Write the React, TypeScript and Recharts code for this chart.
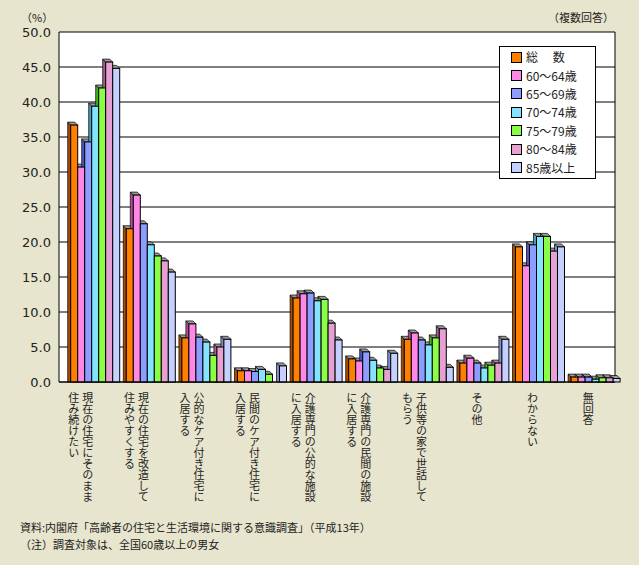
import React from 'react';
import { BarChart, Bar, XAxis, YAxis, CartesianGrid, Legend } from 'recharts';

// categories (x axis) and their vertical label columns
const categories = [
  '現在の住宅にそのまま住み続けたい',
  '現在の住宅を改造して住みやすくする',
  '公的なケア付き住宅に入居する',
  '民間のケア付き住宅に入居する',
  '介護専門の公的な施設に入居する',
  '介護専門の民間の施設に入居する',
  '子供等の家で世話してもらう',
  'その他',
  'わからない',
  '無回答',
];
const categoryLines = [
  ['現在の住宅にそのまま', '住み続けたい'],
  ['現在の住宅を改造して', '住みやすくする'],
  ['公的なケア付き住宅に', '入居する'],
  ['民間のケア付き住宅に', '入居する'],
  ['介護専門の公的な施設', 'に入居する'],
  ['介護専門の民間の施設', 'に入居する'],
  ['子供等の家で世話して', 'もらう'],
  ['その他'],
  ['わからない'],
  ['無回答'],
];

// series values (%)
const total = [36.7, 21.9, 6.3, 1.6, 12.0, 3.3, 6.1, 2.7, 19.3, 0.7];
const age60 = [30.7, 26.7, 8.3, 1.6, 12.6, 3.0, 7.0, 3.4, 16.6, 0.7];
const age65 = [34.3, 22.6, 6.4, 1.5, 12.7, 4.3, 6.0, 2.7, 19.6, 0.7];
const age70 = [39.4, 19.6, 5.7, 1.8, 11.6, 3.1, 5.3, 2.0, 20.8, 0.4];
const age75 = [42.0, 18.0, 3.8, 1.1, 11.8, 2.0, 6.3, 2.4, 20.8, 0.6];
const age80 = [45.7, 17.3, 5.0, 0.0, 8.4, 1.8, 7.6, 2.7, 18.7, 0.6];
const age85 = [44.8, 15.7, 6.1, 2.3, 6.0, 4.1, 2.1, 6.1, 19.3, 0.5];

const seriesKeys = ['total', 'a60', 'a65', 'a70', 'a75', 'a80', 'a85'];
const seriesNames = ['総\u3000 数', '60～64歳', '65～69歳', '70～74歳', '75～79歳', '80～84歳', '85歳以上'];
const seriesValues = [total, age60, age65, age70, age75, age80, age85];
const seriesColors = ['#ff8000', '#ff88e6', '#8c9cff', '#84e4ff', '#88ff44', '#e6a0d2', '#c4d0ff'];
const seriesSides = ['#a84c00', '#b0509c', '#4858c0', '#40a0c0', '#48b020', '#a0608c', '#8090c8'];

const yTicks = [0, 5, 10, 15, 20, 25, 30, 35, 40, 45, 50];

const data = categories.map((name, i) => {
  const row: Record<string, any> = { name };
  seriesKeys.forEach((k, s) => {
    row[k] = seriesValues[s][i];
  });
  return row;
});

const DEPTH = 3;
const SHIFT = 7;
const JP = '"Noto Sans CJK JP", "Noto Sans", sans-serif';

// back faces (top + left side), drawn under all fronts
const BackFace = (props: any) => {
  const { x, y, width, height, side } = props;
  if (!height || height <= 0) return null;
  const X = x + SHIFT;
  const top = `${X},${y} ${X + width},${y} ${X + width - DEPTH},${y - DEPTH} ${X - DEPTH},${y - DEPTH}`;
  const left = `${X},${y} ${X - DEPTH},${y - DEPTH} ${X - DEPTH},${y + height} ${X},${y + height}`;
  return (
    <g>
      <polygon points={left} fill={side} stroke="#000" strokeWidth={0.7} />
      <polygon points={top} fill="#9a9a9a" stroke="#000" strokeWidth={0.7} />
    </g>
  );
};

const FrontFace = (props: any) => {
  const { x, y, width, height, fill } = props;
  if (!height || height <= 0) return null;
  return <rect x={x + SHIFT} y={y} width={width} height={height} fill={fill} stroke="#000" strokeWidth={1} />;
};

const CategoryTick = (props: any) => {
  const { x, y, payload } = props;
  const idx = categories.indexOf(payload.value);
  const lines = categoryLines[idx] || [];
  return (
    <g>
      {lines.map((line, i) => (
        <text
          key={i}
          x={x + 1 - i * 14}
          y={y + 10}
          fontSize={11}
          fill="#1e1e1e"
          fontFamily={JP}
          style={{ writingMode: 'vertical-rl' as any }}
        >
          {line}
        </text>
      ))}
    </g>
  );
};

const renderLegend = () => (
  <div
    style={{
      background: '#fff',
      border: '1px solid #000',
      width: 95,
      height: 130,
      boxSizing: 'content-box',
      paddingTop: 1,
    }}
  >
    {seriesNames.map((n, i) => (
      <div key={n} style={{ display: 'flex', alignItems: 'center', height: 18.4, paddingLeft: 11 }}>
        <span
          style={{
            display: 'inline-block',
            width: 9,
            height: 9,
            background: seriesColors[i],
            border: '1px solid #000',
            marginRight: 4,
          }}
        />
        <span style={{ fontSize: 12, fontFamily: JP, color: '#1e1e1e', lineHeight: '14px' }}>{n}</span>
      </div>
    ))}
  </div>
);

const note = {
  position: 'absolute' as const,
  left: 20,
  fontSize: 11,
  lineHeight: '13px',
  fontFamily: JP,
  color: '#222',
  whiteSpace: 'nowrap' as const,
};

export default function App() {
  return (
    <div
      style={{
        position: 'absolute',
        left: 0,
        top: 0,
        width: 639,
        height: 565,
        background: '#e7e5cd',
        overflow: 'hidden',
      }}
    >
      <div style={{ position: 'absolute', left: 21, top: 10, fontSize: 11, lineHeight: '14px', fontFamily: JP, color: '#222' }}>（%）</div>
      <div style={{ position: 'absolute', right: 25, top: 10, fontSize: 11, lineHeight: '14px', fontFamily: JP, color: '#222' }}>（複数回答）</div>
      <BarChart
        width={639}
        height={565}
        data={data}
        margin={{ top: 32, right: 24, bottom: 43, left: 9 }}
        barGap={0}
        barCategoryGap={4.7}
      >
        <CartesianGrid
          stroke="#000"
          strokeWidth={1}
          fill="#fff"
          fillOpacity={1}
          verticalCoordinatesGenerator={(p: any) => [p.offset.left + p.offset.width]}
        />
        <XAxis
          xAxisId="front"
          dataKey="name"
          interval={0}
          height={140}
          tickLine={false}
          tickSize={0}
          tickMargin={0}
          axisLine={{ stroke: '#000' }}
          tick={<CategoryTick />}
        />
        <XAxis xAxisId="back" dataKey="name" hide height={0} />
        <YAxis
          domain={[0, 50]}
          ticks={yTicks}
          width={50}
          interval={0}
          tickLine={false}
          tickSize={0}
          tickMargin={8}
          axisLine={{ stroke: '#000' }}
          tickFormatter={(v: number) => v.toFixed(1)}
          tick={{ fontSize: 13, fill: '#222', fontFamily: '"DejaVu Sans", sans-serif' }}
        />
        {seriesKeys.map((k, i) => (
          <Bar
            key={'b' + k}
            xAxisId="back"
            dataKey={k}
            fill={seriesColors[i]}
            shape={(p: any) => <BackFace {...p} side={seriesSides[i]} />}
            isAnimationActive={false}
            legendType="none"
          />
        ))}
        {seriesKeys.map((k, i) => (
          <Bar
            key={'f' + k}
            xAxisId="front"
            dataKey={k}
            name={seriesNames[i]}
            fill={seriesColors[i]}
            shape={<FrontFace />}
            isAnimationActive={false}
          />
        ))}
        <Legend
          layout="horizontal"
          verticalAlign="middle"
          align="center"
          content={renderLegend}
          wrapperStyle={{ position: 'absolute', left: 499, top: 46, width: 97, height: 132 }}
        />
      </BarChart>
      <div style={{ ...note, top: 521 }}>資料:内閣府「高齢者の住宅と生活環境に関する意識調査」（平成13年）</div>
      <div style={{ ...note, top: 538 }}>（注）調査対象は、全国60歳以上の男女</div>
    </div>
  );
}
